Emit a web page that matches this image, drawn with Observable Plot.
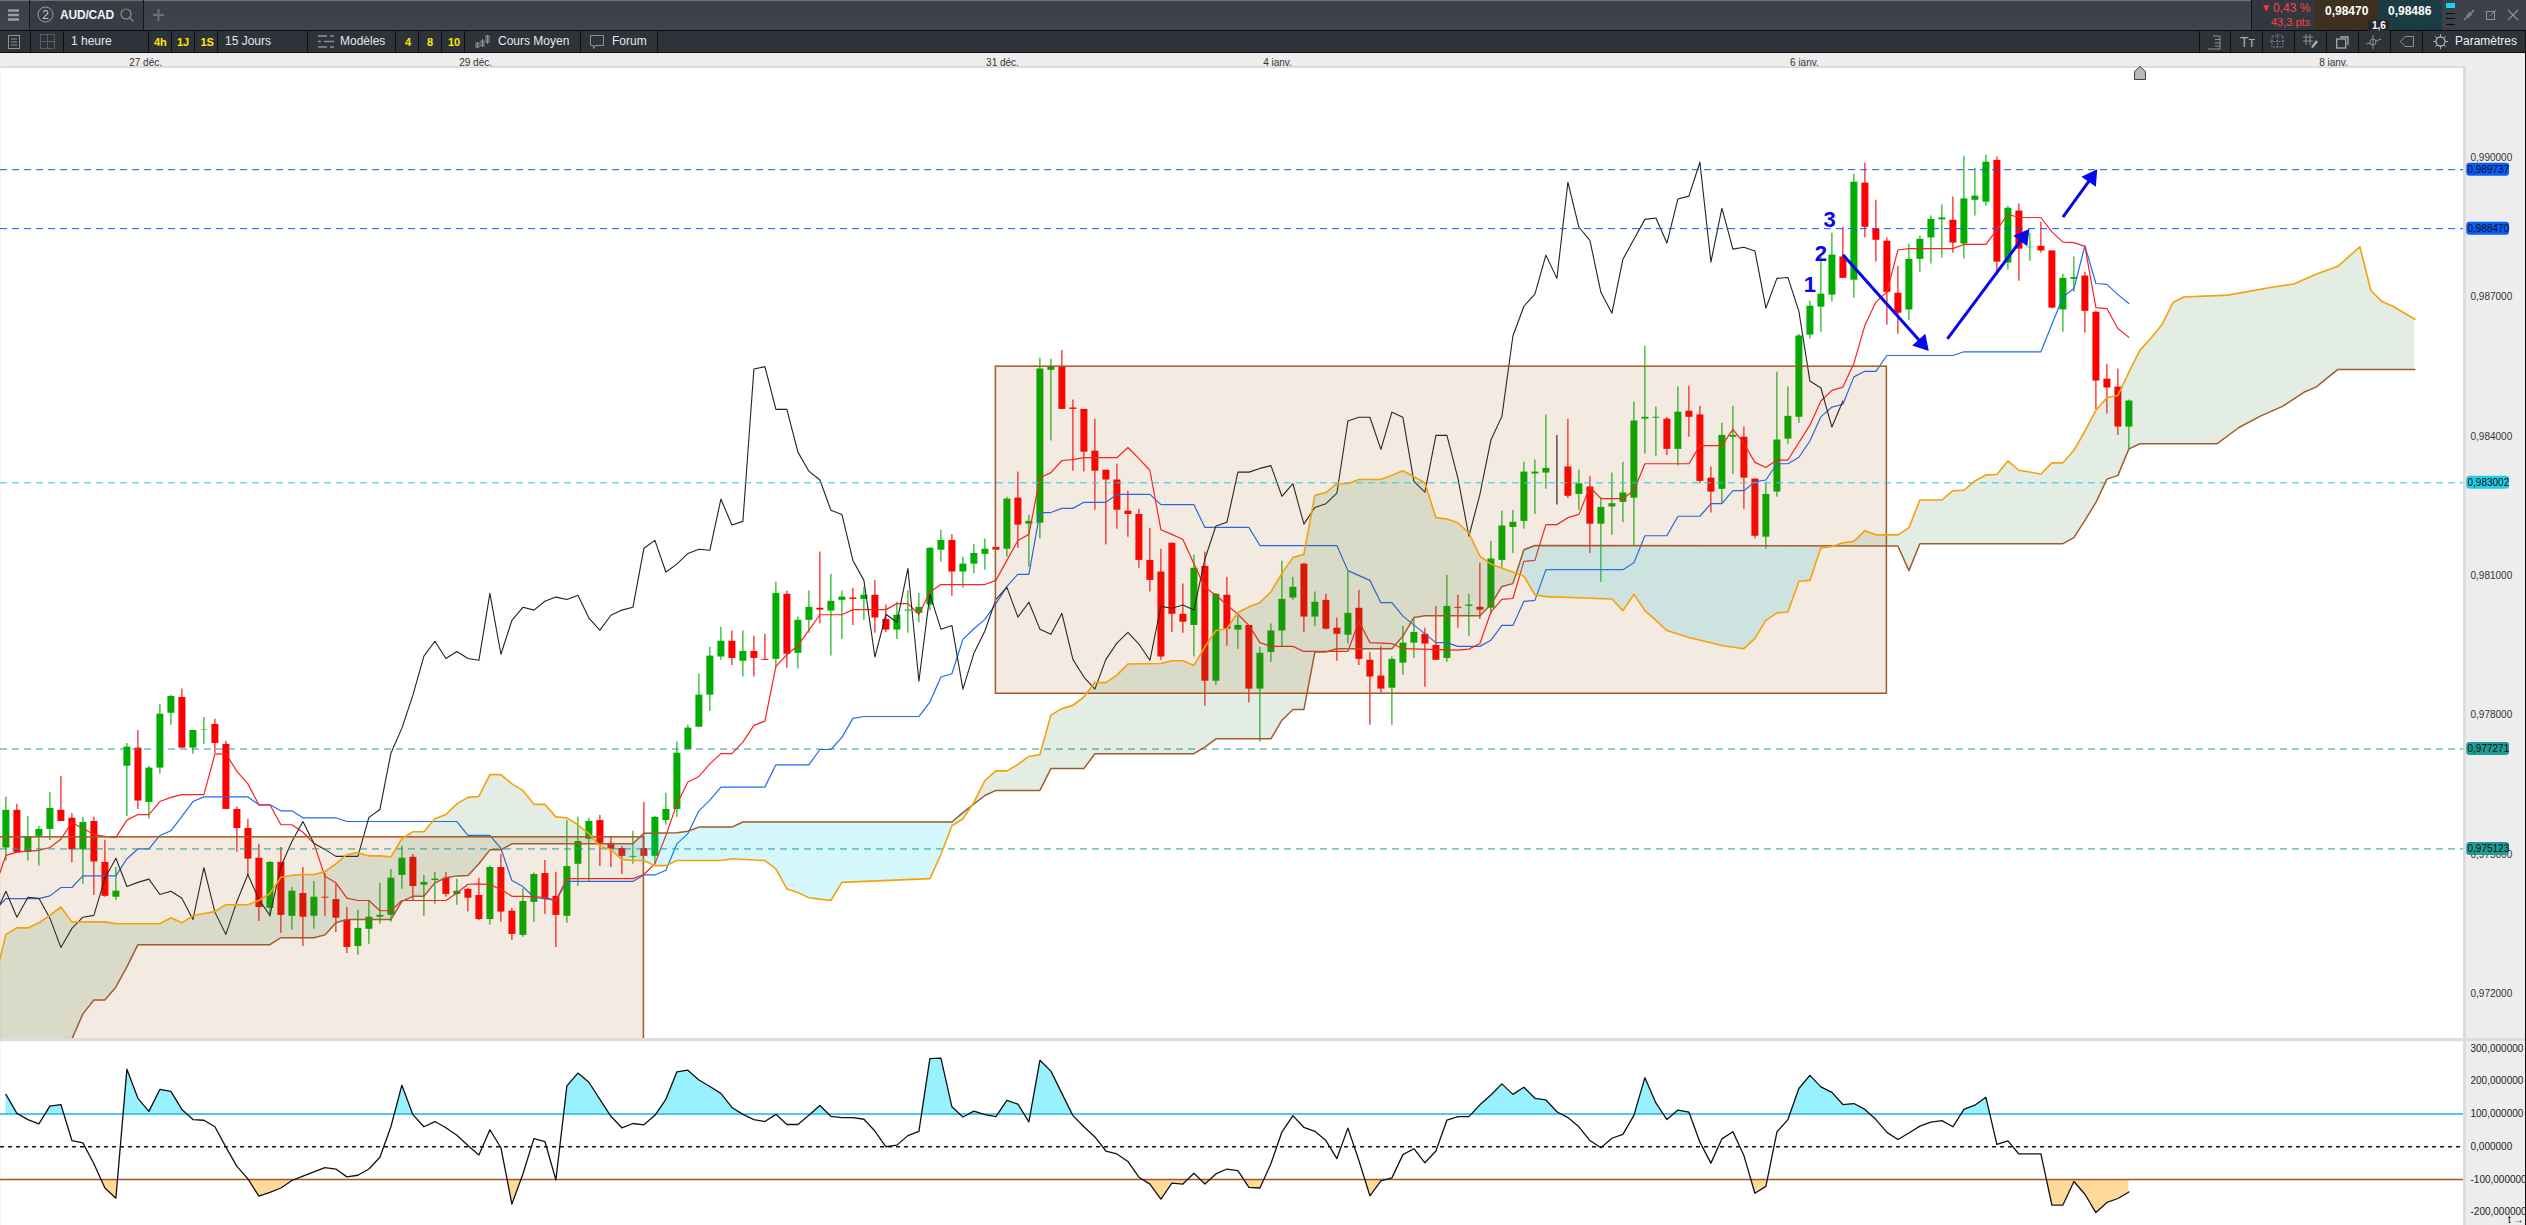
<!DOCTYPE html>
<html lang="fr"><head><meta charset="utf-8"><title>AUD/CAD</title>
<script src="https://cdn.jsdelivr.net/npm/d3@7"></script>
<script src="https://cdn.jsdelivr.net/npm/@observablehq/plot@0.6"></script>
<style>
html,body{margin:0;padding:0;background:#fff}
#page{position:relative;width:2526px;height:1225px;overflow:hidden;font-family:"Liberation Sans",Arial,sans-serif}
#page>svg.plot,#page>div>svg{display:block}
.box{position:absolute}
.t{position:absolute;white-space:nowrap;transform:translateY(-50%);font-size:12px;color:#e8e8e8;line-height:1}
.ic{position:absolute;overflow:visible}
</style></head><body><div id="page"></div>
<script>
// Prices are in points (1 point = 0.00001 AUD/CAD); bars are numbered from the left edge.
const opens=[97514,97595,97505,97539,97554,97595,97578,97510,97571,97483,97408,97690,97729,97612,97686,97804,97838,97729,97768,97780,
97737,97597,97556,97492,97384,97483,97367,97416,97367,97408,97403,97359,97302,97339,97365,97369,97455,97494,97434,97444,
97449,97414,97425,97412,97360,97472,97378,97326,97397,97459,97410,97367,97479,97533,97573,97524,97513,97494,97513,97496,
97573,97597,97726,97774,97843,97925,97959,97916,97937,97920,97920,98060,97933,98004,98030,98024,98047,98052,98049,98058,
98006,97983,98024,98019,98037,98155,98176,98108,98125,98146,98161,98157,98267,98211,98213,98542,98550,98461,98458,98368,
98327,98306,98239,98232,98133,98108,98170,98017,97993,98120,97873,98058,97983,97993,97856,97935,97981,98052,98125,98011,
98047,97987,97972,98030,97918,97884,97858,97912,97955,97974,97950,97922,98032,98034,98032,98030,98133,98204,98217,98319,
98321,98337,98334,98275,98291,98211,98248,98258,98267,98437,98439,98437,98372,98454,98446,98310,98286,98398,98398,98308,
98183,98280,98394,98441,98618,98678,98704,98786,98736,98945,98846,98820,98708,98672,98781,98827,98866,98865,98814,98908,
98904,98994,98773,98885,98806,98809,98799,98672,98738,98745,98667,98523,98506,98420];
const closes=[97595,97504,97538,97554,97599,97571,97510,97569,97484,97410,97421,97731,97615,97686,97802,97840,97729,97767,97769,97739,
97597,97556,97490,97386,97483,97369,97421,97365,97408,97406,97363,97300,97341,97365,97369,97449,97492,97431,97440,97447,
97414,97421,97406,97360,97472,97376,97328,97399,97457,97403,97369,97474,97528,97571,97524,97511,97496,97496,97496,97580,
97597,97718,97772,97843,97927,97959,97922,97937,97922,97918,98062,97931,98004,98032,98026,98045,98054,98049,98058,98009,
97983,98015,98026,98032,98159,98176,98108,98125,98148,98157,98155,98265,98209,98217,98545,98550,98458,98458,98366,98325,
98306,98241,98232,98133,98090,97925,98017,98000,98116,97873,98060,97985,97993,97856,97933,97981,98049,98075,98011,98043,
97985,97974,98019,97920,97882,97856,97920,97955,97978,97953,97918,98034,98030,98037,98026,98136,98207,98215,98323,98323,
98331,98337,98271,98298,98211,98247,98255,98278,98433,98441,98441,98372,98452,98441,98303,98280,98402,98402,98310,98185,
98275,98392,98443,98616,98680,98706,98790,98740,98947,98850,98822,98710,98665,98781,98824,98867,98870,98816,98911,98917,
98990,98775,98891,98803,98807,98799,98676,98740,98742,98669,98519,98504,98420,98476];
const highs=[97623,97608,97582,97561,97634,97668,97588,97580,97580,97530,97472,97739,97767,97690,97823,97843,97856,97767,97795,97791,
97744,97602,97576,97522,97485,97515,97429,97472,97442,97459,97436,97386,97380,97401,97438,97468,97518,97500,97455,97462,
97462,97447,97427,97449,97475,97500,97384,97426,97460,97487,97462,97573,97580,97578,97584,97537,97518,97550,97612,97582,
97632,97742,97778,97888,97946,97989,97981,97981,97970,97974,98086,98067,98011,98067,98151,98103,98067,98073,98075,98090,
98037,98043,98067,98062,98161,98198,98189,98140,98168,98179,98161,98269,98323,98230,98568,98566,98585,98478,98458,98437,
98327,98340,98282,98243,98202,98157,98170,98082,98144,98151,98062,98097,98013,97993,97946,97996,98131,98097,98127,98065,
98060,98009,98108,98069,97935,97948,97925,97991,98006,97987,98034,98101,98058,98060,98127,98174,98239,98241,98344,98349,
98446,98402,98436,98327,98313,98268,98321,98344,98474,98594,98463,98441,98506,98508,98465,98334,98428,98465,98420,98308,
98301,98538,98506,98620,98691,98788,98837,98850,98964,98988,98908,98827,98766,98814,98831,98874,98898,98915,99003,98977,
99005,99001,98895,98900,98837,98861,98799,98749,98786,98753,98669,98555,98545,98478];
const lows=[97486,97504,97486,97475,97530,97571,97482,97436,97412,97408,97401,97582,97597,97576,97673,97778,97728,97716,97737,97717,
97597,97505,97452,97356,97365,97330,97337,97302,97339,97367,97332,97287,97283,97307,97350,97354,97425,97399,97367,97393,
97408,97391,97376,97358,97348,97354,97315,97322,97354,97371,97300,97352,97431,97442,97474,97472,97457,97479,97496,97479,
97563,97580,97726,97774,97808,97918,97907,97882,97882,97918,97901,97901,97899,97976,97996,97927,97963,97993,98004,97976,
97978,97963,97976,97998,98024,98129,98056,98073,98105,98112,98155,98140,98159,98118,98179,98390,98458,98325,98323,98241,
98166,98200,98183,98116,98065,97918,97978,97976,97925,97819,97864,97948,97942,97826,97742,97914,97946,98047,97978,97991,
97983,97916,97953,97907,97778,97847,97778,97886,97922,97860,97918,97914,97987,97970,98006,98017,98116,98148,98200,98232,
98286,98252,98266,98241,98148,98086,98187,98214,98163,98362,98357,98359,98336,98398,98298,98235,98255,98318,98243,98179,
98157,98269,98383,98428,98609,98624,98689,98740,98697,98827,98775,98639,98620,98650,98753,98771,98784,98794,98781,98874,
98895,98747,98758,98734,98777,98794,98674,98624,98710,98622,98458,98448,98402,98370];

// Ichimoku lines: [bar, price] at each vertex.
const tenkan=[[-1,97430],[0,97498],[1,97505],[3,97509],[4,97515],[5,97533],[6,97569],[7,97556],[8,97543],[9,97539],[10,97537],[11,97574],[12,97586],[13,97586],[14,97614],[15,97623],[16,97629],[18,97629],[19,97716],[20,97717],[21,97679],[22,97652],[23,97607],[24,97607],[25,97564],[26,97564],[27,97548],[28,97524],[29,97453],[30,97439],[31,97406],[32,97401],[33,97401],[34,97379],[35,97379],[36,97401],[40,97401],[41,97417],[42,97436],[43,97437],[44,97435],[45,97425],[46,97410],[47,97410],[49,97408],[50,97401],[51,97448],[57,97448],[58,97457],[59,97480],[60,97541],[61,97609],[62,97656],[63,97668],[64,97695],[65,97717],[66,97717],[67,97742],[68,97778],[69,97787],[70,97905],[71,97930],[72,97950],[73,97983],[74,98016],[76,98016],[77,98027],[80,98027],[81,98040],[82,98040],[83,98017],[84,98065],[85,98081],[89,98081],[90,98090],[91,98133],[92,98176],[93,98189],[94,98311],[95,98322],[96,98348],[97,98350],[98,98354],[101,98354],[102,98376],[103,98352],[104,98327],[105,98199],[106,98189],[107,98178],[108,98126],[109,98075],[110,98058],[111,98037],[112,98017],[113,97993],[114,97956],[115,97948],[117,97948],[118,97937],[122,97937],[123,98002],[124,97956],[126,97954],[127,97943],[132,97940],[133,97942],[134,97954],[135,98022],[136,98049],[137,98051],[138,98131],[139,98133],[140,98210],[141,98210],[142,98225],[143,98232],[144,98291],[145,98266],[147,98266],[148,98283],[149,98341],[153,98341],[154,98380],[156,98380],[157,98415],[158,98385],[159,98344],[160,98333],[161,98349],[162,98349],[164,98424],[165,98476],[166,98499],[167,98506],[168,98557],[169,98639],[170,98689],[171,98711],[172,98801],[173,98804],[177,98804],[178,98813],[180,98813],[181,98845],[182,98878],[183,98871],[185,98871],[186,98840],[187,98818],[188,98817],[189,98809],[190,98677],[191,98675],[192,98632],[193,98613]];
const kijun=[[-1,97380],[0,97405],[3,97405],[4,97411],[5,97429],[6,97429],[7,97454],[10,97454],[11,97491],[12,97512],[13,97512],[14,97541],[15,97551],[16,97582],[17,97614],[18,97624],[22,97624],[23,97607],[24,97607],[25,97594],[26,97594],[27,97579],[30,97579],[31,97571],[41,97571],[42,97541],[44,97541],[45,97513],[46,97444],[47,97431],[48,97408],[50,97401],[51,97442],[57,97442],[58,97456],[59,97456],[60,97466],[61,97523],[62,97545],[63,97594],[64,97617],[65,97645],[69,97645],[70,97693],[73,97693],[74,97726],[75,97726],[76,97752],[77,97793],[78,97797],[83,97797],[84,97828],[85,97882],[86,97889],[87,97963],[88,97986],[89,98006],[90,98040],[91,98077],[92,98103],[93,98103],[94,98236],[95,98236],[96,98245],[97,98245],[98,98258],[100,98258],[101,98275],[104,98275],[105,98253],[108,98253],[109,98204],[113,98204],[114,98165],[121,98165],[122,98111],[124,98090],[125,98042],[126,98042],[127,98013],[130,97956],[131,97956],[132,97948],[134,97948],[135,97961],[136,97993],[137,97993],[138,98045],[139,98047],[140,98113],[147,98113],[148,98128],[149,98186],[151,98186],[152,98228],[154,98228],[155,98255],[156,98255],[157,98283],[158,98283],[159,98302],[160,98306],[161,98341],[162,98341],[163,98355],[164,98390],[165,98442],[166,98463],[167,98469],[168,98528],[169,98540],[170,98540],[171,98574],[177,98574],[178,98582],[185,98582],[187,98700],[188,98718],[189,98810],[190,98729],[191,98727],[192,98705],[193,98686]];
const senkouA=[[-1,97229],[0,97328],[1,97342],[2,97342],[3,97353],[4,97369],[5,97387],[6,97355],[9,97355],[10,97351],[14,97351],[15,97364],[16,97353],[17,97368],[18,97373],[19,97377],[20,97392],[22,97392],[23,97401],[24,97416],[25,97451],[26,97455],[27,97457],[28,97457],[29,97463],[30,97480],[31,97500],[32,97504],[33,97497],[34,97497],[35,97495],[36,97534],[37,97549],[38,97549],[39,97577],[40,97586],[41,97609],[42,97623],[43,97625],[44,97672],[45,97672],[46,97652],[47,97638],[48,97608],[49,97608],[50,97581],[51,97579],[52,97564],[53,97545],[54,97518],[55,97511],[56,97489],[57,97487],[58,97487],[59,97476],[60,97476],[61,97487],[65,97487],[66,97491],[69,97487],[70,97469],[71,97426],[72,97418],[73,97407],[74,97404],[75,97401],[76,97440],[84,97448],[85,97500],[86,97562],[87,97577],[88,97612],[89,97659],[90,97680],[91,97680],[92,97694],[93,97711],[94,97715],[95,97800],[96,97814],[97,97821],[98,97839],[99,97870],[100,97870],[101,97886],[102,97910],[105,97911],[106,97917],[107,97917],[108,97907],[109,97947],[110,97982],[111,97986],[112,98021],[113,98033],[114,98042],[115,98065],[116,98105],[117,98139],[118,98146],[119,98273],[120,98279],[121,98298],[122,98298],[123,98307],[125,98307],[126,98316],[127,98326],[128,98313],[129,98300],[130,98225],[131,98222],[132,98214],[133,98192],[134,98142],[135,98125],[136,98116],[137,98108],[138,98099],[139,98059],[140,98055],[146,98050],[147,98025],[148,98060],[149,98025],[150,98004],[151,97982],[153,97967],[156,97950],[158,97943],[159,97965],[160,98004],[161,98020],[162,98022],[163,98088],[164,98090],[165,98160],[166,98163],[167,98171],[168,98174],[169,98197],[170,98188],[172,98188],[173,98203],[174,98263],[176,98263],[177,98283],[178,98284],[179,98304],[180,98317],[181,98318],[182,98347],[183,98327],[185,98319],[186,98343],[187,98343],[188,98370],[189,98411],[190,98456],[191,98483],[192,98488],[193,98538],[194,98585],[195,98611],[196,98640],[197,98688],[198,98700],[202,98704],[206,98721],[208,98728],[210,98749],[212,98766],[214,98808],[215,98714],[216,98690],[217,98680],[219,98652]];
const senkouB=[[-1,96700],[5,97043],[6,97103],[7,97157],[8,97187],[9,97187],[10,97215],[11,97258],[12,97306],[24,97306],[25,97321],[28,97321],[29,97327],[30,97353],[31,97360],[35,97360],[36,97399],[37,97410],[38,97410],[39,97439],[40,97450],[41,97454],[42,97455],[43,97480],[44,97510],[45,97510],[46,97523],[57,97523],[58,97546],[61,97547],[62,97550],[63,97559],[66,97559],[67,97570],[86,97570],[87,97590],[89,97627],[90,97638],[94,97638],[95,97685],[98,97685],[99,97717],[108,97717],[109,97731],[110,97749],[115,97749],[116,97789],[117,97812],[118,97812],[119,97936],[120,97936],[121,97943],[126,97943],[127,97970],[128,98010],[129,98014],[134,98014],[135,98038],[136,98077],[137,98083],[138,98156],[139,98165],[172,98164],[173,98111],[174,98169],[187,98169],[188,98182],[189,98219],[190,98258],[191,98308],[192,98316],[193,98373],[194,98384],[201,98384],[203,98419],[205,98444],[207,98465],[209,98496],[210,98506],[212,98544],[219,98544]];

// CCI(bar by bar)
const cci=[160,102,83,70,124,129,19,12,-52,-126,-157,237,148,108,175,169,114,83,81,61,-1,-60,-98,-151,-139,-126,-103,-90,-77,-64,-68,-92,-87,-68,-32,61,188,98,61,77,58,35,4,-25,52,-3,-175,-83,25,16,-101,186,225,197,145,93,58,71,67,96,145,229,234,204,184,163,120,99,83,77,99,68,68,96,126,93,89,89,84,48,0,5,34,47,269,271,122,91,109,98,92,142,130,76,264,231,163,95,61,30,-13,-22,-45,-93,-114,-160,-111,-114,-81,-114,-83,-68,-73,-124,-126,-52,45,95,59,47,19,-36,57,-42,-150,-104,-95,-24,-6,-49,-13,81,92,92,128,158,192,160,182,148,143,107,89,61,19,-3,26,38,96,211,134,83,112,106,14,-50,24,46,-27,-142,-121,45,83,178,218,183,166,129,132,114,83,44,22,42,63,75,80,61,114,127,151,7,18,-22,-22,-22,-178,-178,-106,-145,-201,-170,-158,-138];

const priceTicks=[97200,97500,97800,98100,98400,98700,99000];
const cciTicks=[300,200,100,0,-100,-200];
const dateBars=[12.7,42.7,90.6,115.6,163.5,211.6];
const dateNames=["27 déc.","29 déc.","31 déc.","4 janv.","6 janv.","8 janv."];
const levelPrices=[98974,98847,98300,97727,97512];
const levelNames=["0,989737","0,988470","0,983002","0,977271","0,975123"];
const levelColors=["#0a5cf5","#0a5cf5","#22cde6","#1f9c94","#1f9c94"];
const zones=[{x1:90,x2:171,y1:97846,y2:98550},{x1:-6,x2:58,y1:96800,y2:97537}];
const arrows=[{x1:167,y1:98791,x2:174.2,y2:98600,rot:138.5},{x1:176.5,y1:98610,x2:183.4,y2:98829,rot:37},{x1:187,y1:98872,x2:189.6,y2:98957,rot:34.6}];
const counts=[{i:164,v:98725,s:"1"},{i:165,v:98793,s:"2"},{i:165.8,v:98865,s:"3"}];

const candles=opens.map((o,i)=>({i,o,c:closes[i],h:highs[i],l:lows[i],col:closes[i]>o?"#00ad00":closes[i]<o?"#ff0000":"#111111"}));
const chikou=closes.map((v,i)=>[i-26,v]);
const at=(s,t)=>{const j=d3.bisector(d=>d[0]).right(s,t);if(j<=0)return s[0][1];if(j>=s.length)return s[s.length-1][1];const a=s[j-1],b=s[j];return a[1]+(b[1]-a[1])*(t-a[0])/(b[0]-a[0]);};
const cloud=d3.range(-1,219.01,0.1).map(t=>({t,a:at(senkouA,t),b:at(senkouB,t)}));
const cciPairs=cci.map((v,i)=>[i,v]);
const cciFine=d3.range(0,193.01,0.1).map(t=>({t,v:at(cciPairs,t)}));
const levels=levelPrices.map((v,k)=>({v,s:levelNames[k],col:levelColors[k]}));
const X={x:d=>d[0],y:d=>d[1]};
const page=document.getElementById("page");

const xScale={domain:[-0.491,223.418],range:[0,2463]};
const fmt=(v,d)=>v.toFixed(6).replace(".",",");
const main=Plot.plot({
  width:2526,height:985,marginLeft:0,marginRight:63,marginTop:13,marginBottom:0,
  style:{background:"#ededed",fontFamily:"'Liberation Sans',Arial,sans-serif",overflow:"hidden"},
  x:{...xScale},y:{domain:[97104,99196],range:[985,13]},
  marks:[
    Plot.frame({fill:"#ffffff",stroke:"none"}),
    Plot.axisX(dateBars,{anchor:"top",tickSize:0,tickPadding:1,fontSize:10,fill:"#333",tickFormat:d=>dateNames[dateBars.indexOf(d)],label:null}),
    Plot.axisY(priceTicks,{anchor:"right",tickSize:0,tickPadding:7,fontSize:10,fill:"#333",tickFormat:v=>fmt(v/1e5),label:null}),
    Plot.ruleX(candles,{x:"i",y1:"l",y2:"h",stroke:"col",strokeWidth:1.1,clip:true}),
    Plot.ruleX(candles,{x:"i",y1:"o",y2:"c",stroke:"col",strokeWidth:7,clip:true}),
    Plot.line(kijun,{...X,stroke:"#1f6bf2",strokeWidth:1.2,clip:true}),
    Plot.line(tenkan,{...X,stroke:"#ff2020",strokeWidth:1.2,clip:true}),
    Plot.line(chikou,{...X,stroke:"#222222",strokeWidth:1.1,clip:true}),
    Plot.areaY(cloud,{x:"t",y1:"b",y2:d=>Math.max(d.a,d.b),fill:"rgb(60,130,60)",fillOpacity:0.14,clip:true}),
    Plot.areaY(cloud,{x:"t",y1:"a",y2:d=>Math.max(d.a,d.b),fill:"rgb(0,210,235)",fillOpacity:0.17,clip:true}),
    Plot.rect(zones,{x1:"x1",x2:"x2",y1:"y1",y2:"y2",fill:"rgb(160,80,20)",fillOpacity:0.12,stroke:"#a05a28",strokeWidth:1.5,clip:true}),
    Plot.ruleY(levels,{y:"v",stroke:"col",strokeWidth:1,strokeDasharray:"7,5"}),
    Plot.line(senkouB,{...X,stroke:"#a05c2a",strokeWidth:1.5,clip:true}),
    Plot.line(senkouA,{...X,stroke:"#f5a20a",strokeWidth:1.6,clip:true}),
    Plot.link(arrows,{x1:"x1",y1:"y1",x2:"x2",y2:"y2",stroke:"#0505ee",strokeWidth:3}),
    Plot.dot(arrows,{x:"x2",y:"y2",symbol:"triangle",r:6.5,fill:"#0505ee",rotate:"rot"}),
    Plot.text(counts,{x:"i",y:"v",text:"s",fill:"#0505ee",fontSize:22,fontWeight:"bold"}),
    Plot.rect(levels,{x1:()=>223.72,x2:()=>227.6,y1:d=>d.v-14,y2:d=>d.v+14,fill:"col",rx:3}),
    Plot.text(levels,{x:()=>223.78,y:"v",text:"s",textAnchor:"start",fontSize:10,fill:"#111"})
  ]
});
main.style.position="absolute";main.style.left="0";main.style.top="53px";

const sub=Plot.plot({
  width:2526,height:184,marginLeft:0,marginRight:63,marginTop:0,marginBottom:0,
  style:{background:"#ededed",fontFamily:"'Liberation Sans',Arial,sans-serif",overflow:"hidden"},
  x:{...xScale},y:{domain:[-240.5,321.5],range:[184,0]},
  marks:[
    Plot.frame({fill:"#ffffff",stroke:"none"}),
    Plot.axisY(cciTicks,{anchor:"right",tickSize:0,tickPadding:7,fontSize:10,fill:"#222",tickFormat:v=>fmt(v),label:null}),
    Plot.areaY(cciFine,{x:"t",y1:()=>100,y2:d=>Math.max(d.v,100),fill:"#99f1ff"}),
    Plot.areaY(cciFine,{x:"t",y1:()=>-100,y2:d=>Math.min(d.v,-100),fill:"#ffd998"}),
    Plot.ruleY([100],{stroke:"#18b4e0",strokeWidth:1.6}),
    Plot.ruleY([-100],{stroke:"#a5521b",strokeWidth:1.6}),
    Plot.ruleY([0],{stroke:"#111",strokeWidth:1.4,strokeDasharray:"4,4"}),
    Plot.line(cciPairs,{...X,stroke:"#111111",strokeWidth:1.3})
  ]
});
sub.style.position="absolute";sub.style.left="0";sub.style.top="1041px";
page.append(main,sub);

// ---- window chrome around the chart ----
function box(l,t,w,h,css){const d=document.createElement("div");d.className="box";d.style.cssText=`left:${l}px;top:${t}px;width:${w}px;height:${h}px;${css||""}`;page.append(d);return d;}
function txt(s,l,y,css){const d=document.createElement("div");d.className="t";d.textContent=s;d.style.cssText=`left:${l}px;top:${y}px;${css||""}`;page.append(d);return d;}
function ic(l,t,w,h,body){const n=document.createElementNS("http://www.w3.org/2000/svg","svg");n.setAttribute("class","ic");n.setAttribute("width",w);n.setAttribute("height",h);n.setAttribute("viewBox",`0 0 ${w} ${h}`);n.style.left=l+"px";n.style.top=t+"px";n.innerHTML=body;page.append(n);}
box(0,0,2526,30,"background:linear-gradient(#454a52,#3b4047 12%,#40454d)");
box(0,0,2526,1,"background:#6a6e74");
box(0,30,2526,1,"background:#0b0c0e");
box(0,31,2526,21,"background:#2e3239");
box(0,52,2526,1,"background:#0b0c0e");
box(0,66,2463,2,"background:#dcdcdc");
box(0,1038,2526,3,"background:#dcdcdc");
box(2463,66,3,1159,"background:#dcdcdc");
box(2525,31,1,1194,"background:#111");
[29,143].forEach(x=>box(x,0,1,30,"background:#16181b"));
box(30,1,113,29,"background:#383c44");
[30,63,148,171,194,217,307,395,418,441,464,580,657,2199,2230,2262,2294,2326,2358,2390,2422].forEach(x=>box(x,31,1,21,"background:#0f1012"));
// hamburger, currency tab
ic(8,9,12,12,'<path d="M0 1.5H11M0 6H11M0 10.5H11" stroke="#9a9da2" stroke-width="2.4"/>');
ic(37,6,17,17,'<circle cx="8.5" cy="8.5" r="7.5" fill="none" stroke="#a0a3a8"/><text x="8.5" y="12.5" font-size="12" text-anchor="middle" fill="#c8cacd" font-family="Liberation Sans">2</text>');
txt("AUD/CAD",60,15,"font-weight:bold;color:#f2f2f2;font-size:12px;letter-spacing:-.2px");
ic(120,8,15,15,'<circle cx="6" cy="6" r="5" fill="none" stroke="#8c8f94" stroke-width="1.2"/><path d="M9.6 9.6L13.5 13.5" stroke="#8c8f94" stroke-width="1.3"/>');
ic(153,9,11,12,'<path d="M5.5 0V12M0 6H11" stroke="#6d7076" stroke-width="2"/>');
// second row
ic(8,35,12,14,'<rect x=".5" y=".5" width="11" height="13" fill="none" stroke="#8e9196"/><path d="M3 4H9M3 7H9M3 10H9" stroke="#8e9196"/>');
ic(40,34,15,15,'<path d="M.5.5H14.5V14.5H.5ZM7.5.5V14.5M.5 7.5H14.5" fill="none" stroke="#6c6f75" stroke-dasharray="2,1"/>');
txt("1 heure",71,41);
[["4h",154],["1J",177],["1S",200.5]].forEach(([s,x])=>txt(s,x,42,"color:#ffe800;font-weight:bold;font-size:11px"));
txt("15 Jours",225,41);
ic(318,34,16,15,'<path d="M0 2H9M12 2H16M0 7.5H3M6 7.5H16M0 13H9M12 13H16" stroke="#8e9196" stroke-width="1.6"/>');
txt("Modèles",340,41);
[["4",405],["8",427],["10",448]].forEach(([s,x])=>txt(s,x,42,"color:#ffe800;font-weight:bold;font-size:11px"));
ic(475,34,15,15,'<path d="M2.5 8V14M7.5 5V13M12.5 1V10" stroke="#8e9196"/><rect x="1" y="9" width="3" height="4" fill="none" stroke="#8e9196"/><rect x="6" y="7" width="3" height="5" fill="none" stroke="#8e9196"/><rect x="11" y="2" width="3" height="6" fill="none" stroke="#8e9196"/>');
txt("Cours Moyen",498,41);
ic(590,35,14,15,'<path d="M.5.5H13.5V10.5H5L3.5 14V10.5H.5Z" fill="none" stroke="#8e9196"/>');
txt("Forum",612,41);
// right side of the toolbars
box(2251,0,64,30,"background:#333840;border-left:1px solid #111");
txt("▼",2261,8,"color:#ff3a3a;font-size:10px");
txt("0,43 %",2273,8,"color:#ff4040;font-size:12px");
txt("43,3 pts",2271,22,"color:#ff4040;font-size:11px");
box(2315,0,63,30,"background:#3e3020");
box(2378,0,64,30,"background:#1c3c44");
txt("0,98470",2325,11,"color:#fff;font-weight:bold;font-size:12px");
txt("0,98486",2388,11,"color:#fff;font-weight:bold;font-size:12px");
box(2368,20,21,11,"background:#23272e;border-radius:2px 2px 0 0");
txt("1,6",2372,26,"color:#fff;font-weight:bold;font-size:10px");
box(2442,0,84,30,"background:#3d4149");
box(2446,3,9,5,"background:#10d8f8");
[13,18,24].forEach(y=>box(2446,y,9,1,"background:#0b0c0e"));
ic(2463,9,12,12,'<path d="M1 11L5 7M3 6H6V9M11 1L7 5M9 6H6V3" stroke="#8e9196" fill="none" stroke-width="1.2"/>');
ic(2486,9,11,12,'<rect x=".5" y="2.5" width="8" height="8" fill="none" stroke="#8e9196"/><path d="M4 7L10 1" stroke="#8e9196"/>');
ic(2508,10,10,10,'<path d="M0 0L10 10M10 0L0 10" stroke="#8e9196" stroke-width="1.1"/>');
ic(2208,35,15,15,'<path d="M5 1H12V14H0M7 4.5H12M7 8H12M7 11H12" fill="none" stroke="#8e9196"/>');
txt("Tт",2240,42,"color:#a8abaf;font-size:14px");
ic(2270,34,15,15,'<path d="M2 2H13V13H2ZM7.5 0V15M0 7.5H15" fill="none" stroke="#8e9196" stroke-dasharray="1.5,1.5"/>');
ic(2303,34,15,15,'<path d="M3 0V11M7 0V11M0 3H10M0 7H10" stroke="#8e9196"/><path d="M8 13L13 6L15 8L10 14Z" fill="#a8abaf"/>');
ic(2336,34,14,15,'<rect x=".7" y="5" width="9" height="9" fill="none" stroke="#a8abaf" stroke-width="1.3"/><path d="M4 3H12V11" fill="none" stroke="#a8abaf" stroke-width="1.3"/>');
ic(2366,35,15,14,'<circle cx="7" cy="7" r="3" fill="none" stroke="#8e9196"/><path d="M7 0V14M0 9L4 8M10 6L15 4" stroke="#8e9196"/>');
ic(2400,36,14,11,'<path d="M13.5.5H5L.5 5.5L5 10.5H13.5Z" fill="none" stroke="#8e9196"/>');
ic(2433,34,15,15,'<circle cx="7.5" cy="7.5" r="4.5" fill="none" stroke="#a8abaf" stroke-width="1.4"/><path d="M7.5 0V3M7.5 12V15M0 7.5H3M12 7.5H15M2.2 2.2L4 4M11 11L12.8 12.8M2.2 12.8L4 11M11 4L12.8 2.2" stroke="#a8abaf"/>');
txt("Paramètres",2455,41,"font-weight:normal;color:#f0f0f0");
// cursor marker on the date strip
ic(2134,66,12,14,'<path d="M.5 5.5L6 .5L11.5 5.5V13.5H.5Z" fill="#b8b8b8" stroke="#444"/>');
</script></body></html>
